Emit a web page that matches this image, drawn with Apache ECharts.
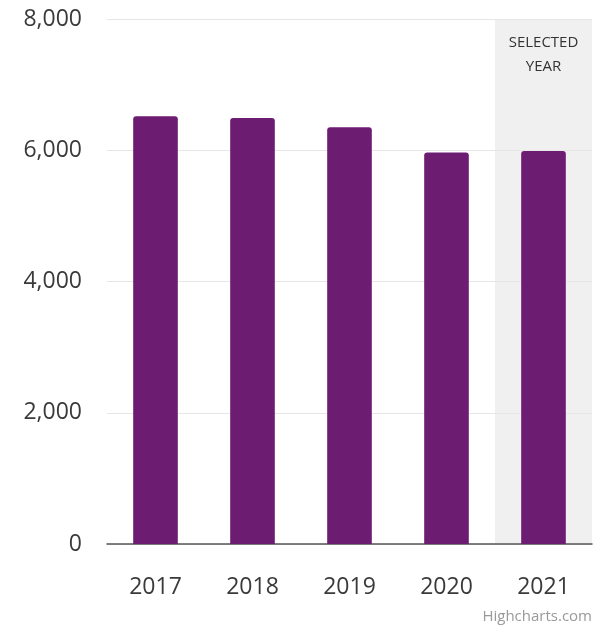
<!DOCTYPE html>
<html>
<head>
<meta charset="utf-8">
<script src="https://cdn.jsdelivr.net/npm/echarts@6/dist/echarts.min.js"></script>
<style>
  html, body { margin: 0; padding: 0; background: #fff; }
  #chart { width: 594px; height: 627px; }
</style>
</head>
<body>
<div id="chart"></div>
<script>
const years = ['2017', '2018', '2019', '2020', '2021'];
const values = [6520, 6490, 6350, 5965, 5990];
const selectedYear = '2021';
const yMax = 8000;

const FONT = 'Open Sans';
const chart = echarts.init(document.getElementById('chart'));

// grey band behind the selected year, on a hidden copy of the category axis
const bandData = years.map(y => (y === selectedYear ? yMax : null));

chart.setOption({
  animation: false,
  grid: { left: 107, right: 2, top: 19, bottom: 83 },
  xAxis: [
    {
      type: 'category',
      data: years,
      axisTick: { show: false },
      axisLine: { lineStyle: { color: '#555', width: 1.5 } },
      axisLabel: {
        color: '#3a3a3a',
        fontFamily: FONT,
        fontSize: 23,
        margin: 32
      }
    },
    {
      type: 'category',
      data: years,
      show: false
    }
  ],
  yAxis: {
    type: 'value',
    min: 0,
    max: yMax,
    interval: 2000,
    axisLine: { show: false },
    axisTick: { show: false },
    splitLine: { lineStyle: { color: '#e6e6e6', width: 1 } },
    axisLabel: {
      color: '#3a3a3a',
      fontFamily: FONT,
      fontSize: 23,
      margin: 25,
      formatter: v => v.toLocaleString('en-US')
    }
  },
  series: [
    {
      name: 'band',
      type: 'bar',
      xAxisIndex: 1,
      data: bandData,
      barWidth: '100%',
      silent: true,
      z: -1,
      itemStyle: { color: '#f0f0f0' },
      label: {
        show: true,
        position: 'insideTop',
        distance: 12,
        formatter: 'SELECTED\nYEAR',
        color: '#333',
        fontFamily: FONT,
        fontSize: 15,
        lineHeight: 24
      }
    },
    {
      name: 'value',
      type: 'bar',
      data: values,
      barWidth: '46%',
      z: 3,
      itemStyle: {
        color: '#6c1d72',
        borderRadius: [3, 3, 0, 0]
      }
    }
  ],
  graphic: [
    {
      type: 'text',
      right: 2,
      bottom: 3,
      style: {
        text: 'Highcharts.com',
        fill: '#999',
        font: '15px "Open Sans"'
      }
    }
  ]
});
</script>
</body>
</html>
